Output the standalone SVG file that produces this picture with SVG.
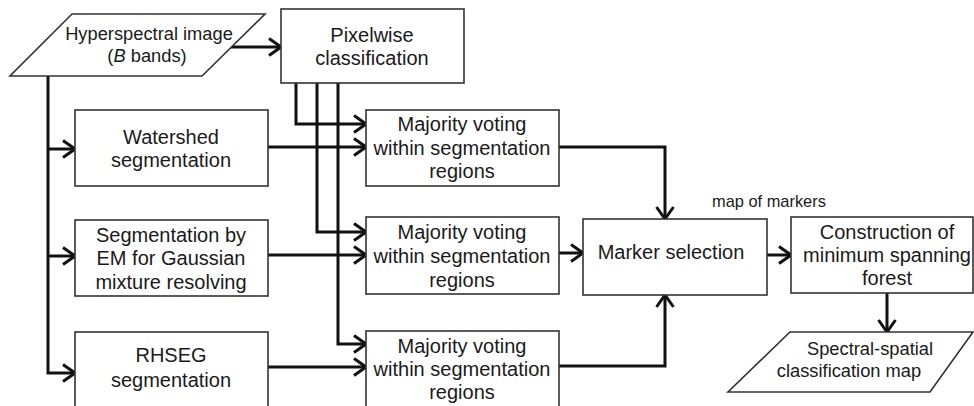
<svg xmlns="http://www.w3.org/2000/svg" width="974" height="406" viewBox="0 0 974 406">
<style>
.box{fill:#fff;stroke:#333;stroke-width:1.6}
.t{font-family:"Liberation Sans",Arial,sans-serif;font-size:20px;fill:#1a1a1a;text-anchor:middle}
.s{font-size:18.3px}
.lab{font-family:"Liberation Sans",Arial,sans-serif;font-size:16.4px;fill:#1a1a1a}
.c{fill:none;stroke:#111;stroke-width:3;marker-end:url(#ah)}
</style>
<defs>
<marker id="ah" markerUnits="userSpaceOnUse" viewBox="-15 -11 17 22" markerWidth="17" markerHeight="22" refX="0" refY="0" orient="auto">
<path d="M-12,-8.5 L0,0 L-12,8.5" fill="none" stroke="#111" stroke-width="3"/>
</marker>
</defs>
<rect width="974" height="406" fill="#fff"/>
<g id="connectors">
<path class="c" d="M230,47 H281"/>
<path class="c" d="M48,76 V373 H75"/>
<path class="c" d="M48,149 H75"/>
<path class="c" d="M48,256 H75"/>
<path class="c" d="M296,83 V124 H366"/>
<path class="c" d="M317,83 V232 H366"/>
<path class="c" d="M338,83 V344 H366"/>
<path class="c" d="M268,147 H366"/>
<path class="c" d="M268,255 H366"/>
<path class="c" d="M268,367 H366"/>
<path class="c" d="M559,147 H665 V219"/>
<path class="c" d="M559,253 H583"/>
<path class="c" d="M559,366 H665 V295"/>
<path class="c" d="M767,255 H791"/>
<path class="c" d="M887,293 V332"/>
</g>
<g id="input">
<polygon class="box" points="72,14 265,14 202,76 10,76"/>
<text class="t s" x="149" y="40">Hyperspectral image</text>
<text class="t s" x="147" y="62">(<tspan font-style="italic">B</tspan> bands)</text>
</g>
<g id="pixelwise">
<rect class="box" x="281" y="9" width="183" height="74"/>
<text class="t" x="372" y="42">Pixelwise</text>
<text class="t" x="372" y="65">classification</text>
</g>
<g id="watershed">
<rect class="box" x="75" y="110" width="193" height="76"/>
<text class="t" x="171" y="144">Watershed</text>
<text class="t" x="171" y="167">segmentation</text>
</g>
<g id="em">
<rect class="box" x="75" y="220" width="193" height="76"/>
<text class="t" x="171" y="242">Segmentation by</text>
<text class="t" x="171" y="265">EM for Gaussian</text>
<text class="t" x="171" y="289">mixture resolving</text>
</g>
<g id="rhseg">
<rect class="box" x="75" y="332" width="193" height="84"/>
<text class="t" x="171" y="362">RHSEG</text>
<text class="t" x="171" y="387">segmentation</text>
</g>
<g id="majority1">
<rect class="box" x="366" y="110" width="193" height="76"/>
<text class="t" x="462" y="131">Majority voting</text>
<text class="t" x="462" y="155">within segmentation</text>
<text class="t" x="462" y="178">regions</text>
</g>
<g id="majority2">
<rect class="box" x="366" y="217" width="193" height="77"/>
<text class="t" x="462" y="239">Majority voting</text>
<text class="t" x="462" y="263">within segmentation</text>
<text class="t" x="462" y="287">regions</text>
</g>
<g id="majority3">
<rect class="box" x="366" y="331" width="193" height="85"/>
<text class="t" x="462" y="353">Majority voting</text>
<text class="t" x="462" y="376">within segmentation</text>
<text class="t" x="462" y="399">regions</text>
</g>
<g id="marker">
<rect class="box" x="583" y="219" width="184" height="76"/>
<text class="t" x="671" y="259">Marker selection</text>
</g>
<text id="map-label" class="lab" x="712" y="207">map of markers</text>
<g id="construction">
<rect class="box" x="791" y="217" width="182" height="76"/>
<text class="t" x="887" y="239">Construction of</text>
<text class="t" x="887" y="262">minimum spanning</text>
<text class="t" x="887" y="285">forest</text>
</g>
<g id="output">
<polygon class="box" points="790,332 973,332 930,392 728,392"/>
<text class="t s" x="870" y="355">Spectral-spatial</text>
<text class="t s" x="849" y="377">classification map</text>
</g>
</svg>
